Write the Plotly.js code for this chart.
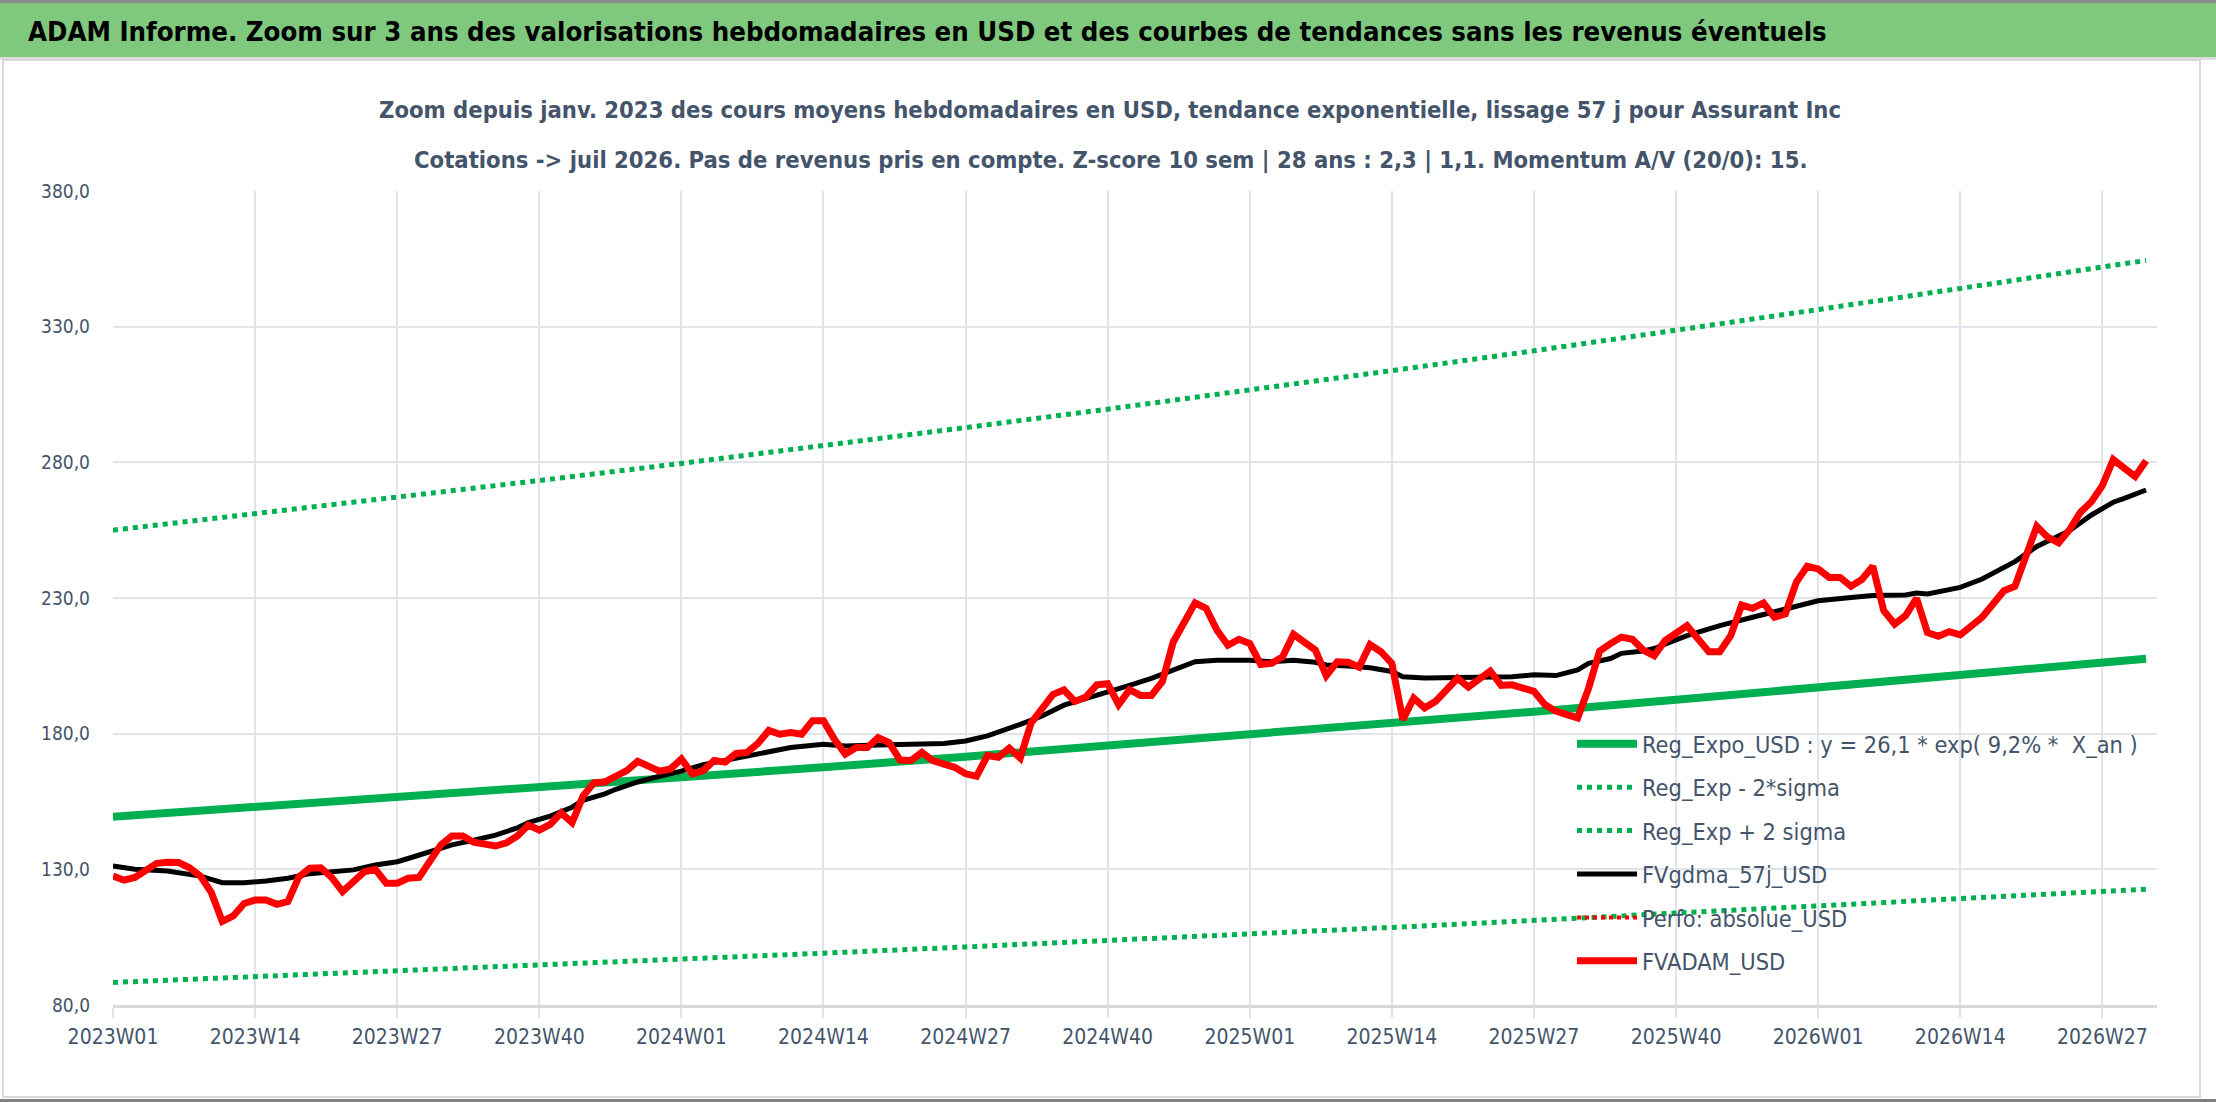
<!DOCTYPE html>
<html>
<head>
<meta charset="utf-8">
<script src="https://cdn.plot.ly/plotly-3.0.1.min.js"></script>
<style>
html, body { margin: 0; padding: 0; background: #fff; }
#chart { width: 2216px; height: 1102px; }
</style>
</head>
<body>
<div id="chart"></div>
<script>
// categories : semaines ISO de 2023W01 a 2026W31
const years = [2023, 2024, 2025, 2026]
const weeksPerYear = [52, 52, 52, 31]
const weeks = []
years.forEach((y, k) => {
    for (let w = 1; w <= weeksPerYear[k]; w++) weeks.push(y + 'W' + String(w).padStart(2, '0'))
})

const tickLabels = ['2023W01', '2023W14', '2023W27', '2023W40', '2024W01', '2024W14', '2024W27', '2024W40',
    '2025W01', '2025W14', '2025W27', '2025W40', '2026W01', '2026W14', '2026W27']

// courbes de tendance, lues tous les 13 semaines
const trendWeeks = tickLabels.concat(['2026W31'])
const regExpo = [149.4, 152.9, 156.4, 160.1, 163.8, 167.6, 171.5, 175.5, 179.6, 183.8, 188.1, 192.5, 197.0, 201.6, 206.3, 207.6]
const regLow = [88.3, 90.4, 92.5, 94.6, 96.8, 99.1, 101.4, 103.7, 106.1, 108.6, 111.2, 113.8, 116.4, 119.1, 121.9, 122.7]
const regHigh = [255.0, 261.0, 267.0, 273.3, 279.6, 286.1, 292.8, 299.6, 306.6, 313.8, 321.1, 328.6, 336.3, 344.1, 352.1, 354.4]

// lissage 57 j (index de semaine, valeur)
const smaIdx = [0, 2, 5, 8, 10, 12, 14, 16, 18, 20, 22, 24, 26, 27, 29, 31, 33, 35, 37, 38, 40, 42, 43, 45, 46,
    48, 50, 52, 54, 57, 60, 62, 65, 67, 70, 73, 76, 78, 80, 83, 85, 87, 89, 91, 93, 95, 97, 99, 101, 104,
    106, 108, 110, 111, 113, 115, 117, 118, 120, 123, 125, 128, 130, 132, 134, 135, 137, 138, 140, 141,
    144, 147, 150, 153, 156, 159, 161, 164, 165, 166, 169, 171, 174, 176, 179, 181, 183, 184, 186]
const smaValues = [131.2, 130, 129.4, 127.5, 125.1, 125.1, 125.7, 126.7, 128.4, 129.1, 129.8, 131.6, 132.8, 134, 136.5, 139, 140.7, 142.6, 145.3, 147.2, 149.6, 152.9, 155.4, 157.8, 159.5,
    162.2, 164.3, 166.2, 168.6, 171, 173.5, 174.9, 176.1, 175.5, 175.8, 176.1, 176.4, 177.3, 179.2, 183.4, 186.5, 190.5, 192.8, 195.5, 197.8, 200.4, 203.5, 206.5, 207.1, 207.1,
    206.5, 207.1, 206.3, 205.3, 204.9, 204.3, 202.9, 201, 200.5, 200.7, 201, 201, 201.7, 201.4, 203.5, 205.9, 207.7, 209.6, 210.5, 211.4,
    216.1, 219.8, 222.9, 225.9, 229, 230.2, 230.9, 231.1, 231.8, 231.5, 233.9, 237, 243.4, 249, 254.8, 260.6, 265.3, 266.7, 269.8]

// valorisation hebdomadaire
const fvadam = [
    127.5, 126, 127, 130, 132.2, 132.6, 132.5, 130.6, 127.5, 121.4,
    110.8, 112.8, 117.4, 118.7, 118.7, 117.1, 118.1, 127.2, 130.4, 130.6,
    127, 121.8, 125.1, 129.1, 130, 124.9, 124.9, 126.7, 127, 132.5,
    139, 142.3, 142.3, 140, 139, 138.6, 139.8, 142.3, 146.3, 144.5,
    146.6, 150.8, 147.2, 157, 161.9, 162.2, 164.3, 166.4, 169.8, 168,
    166.2, 167, 170.7, 165.2, 166.4, 170.1, 169.5, 172.7, 173.1, 176.4,
    181.2, 179.8, 180.4, 179.8, 184.8, 184.8, 177.9, 172.5, 174.9, 174.9,
    178.5, 176.7, 170.3, 170.1, 173.1, 170.1, 168.9, 167.6, 165.2, 164.3,
    171.9, 171.3, 174.7, 171, 184, 189.8, 194.5, 196.1, 191.9, 193.5,
    198, 198.4, 190.7, 196.2, 194.1, 194.1, 199.2, 213.8, 221.7, 228.2,
    226.2, 218.1, 212.6, 214.8, 213.2, 205.5, 205.9, 208.3, 216.6, 213.6,
    210.8, 201.4, 206.5, 206.3, 204.5, 212.8, 210.2, 205.9, 185.2, 193.1,
    189.5, 191.9, 196.2, 200.4, 197.2, 199.8, 203.1, 197.8, 198, 196.8,
    195.6, 190.7, 188.3, 187, 185.8, 196.8, 210.4, 213.2, 215.6, 214.8,
    210.8, 208.7, 214.3, 217, 219.8, 215, 210.2, 210.2, 216.1, 227.4,
    226.2, 228.2, 222.9, 224.1, 235.8, 241.7, 240.7, 237.6, 237.6, 234.3,
    236.8, 241.7, 225.3, 220.4, 223.5, 229.9, 217.3, 215.9, 217.6, 216.4,
    219.6, 222.9, 227.8, 232.7, 234.3, 245.6, 256.4, 252.4, 250.3, 255.2,
    261.6, 265.5, 271.4, 281, 278.2, 274.8, 280.6]

const FONT = '"Liberation Sans Narrow", "DejaVu Sans Condensed", "Roboto Condensed", sans-serif'
const GREEN = '#00B050'
const TXT = '#44546A'

// zone de trace en pixels : 113..2157 x 191..1005
const px = x => (x - 113) / 2044
const py = y => (1005 - y) / 814

const data = [
    { x: trendWeeks, y: regExpo, type: 'scatter', mode: 'lines', name: 'Reg_Expo_USD : y = 26,1 * exp( 9,2% *  X_an )',
      legendgroup: 'a', line: { color: GREEN, width: 8 } },
    { x: trendWeeks, y: regLow, type: 'scatter', mode: 'lines', name: 'Reg_Exp - 2*sigma',
      legendgroup: 'b', line: { color: GREEN, width: 5, dash: '5px,5px' } },
    { x: trendWeeks, y: regHigh, type: 'scatter', mode: 'lines', name: 'Reg_Exp + 2 sigma',
      legendgroup: 'c', line: { color: GREEN, width: 5, dash: '5px,5px' } },
    { x: smaIdx.map(i => weeks[i]), y: smaValues, type: 'scatter', mode: 'lines', name: 'FVgdma_57j_USD',
      legendgroup: 'd', line: { color: '#000000', width: 5 } },
    { x: [weeks[0]], y: [null], type: 'scatter', mode: 'lines', name: 'Perfo: absolue_USD',
      legendgroup: 'e', line: { color: '#FF0000', width: 4, dash: '4px,4px' } },
    { x: weeks, y: fvadam, type: 'scatter', mode: 'lines', name: 'FVADAM_USD',
      legendgroup: 'f', line: { color: '#FF0000', width: 7 } }
]

const layout = {
    width: 2216,
    height: 1102,
    margin: { l: 113, r: 59, t: 191, b: 97 },
    paper_bgcolor: '#ffffff',
    plot_bgcolor: '#ffffff',
    separators: ', ',
    font: { family: FONT, color: TXT, size: 22 },
    title: {
        text: '<b>ADAM Informe. Zoom sur 3 ans des valorisations hebdomadaires en USD et des courbes de tendances sans les revenus éventuels</b>',
        xref: 'container', yref: 'container', x: 28 / 2216, xanchor: 'left', y: 1 - 31 / 1102, yanchor: 'middle',
        font: { family: FONT, size: 27.3, color: '#000000' }
    },
    annotations: [
        { text: '<b>Zoom depuis janv. 2023 des cours moyens hebdomadaires en USD, tendance exponentielle, lissage 57 j pour Assurant Inc</b>',
          xref: 'paper', yref: 'paper', x: px(1110), y: py(110), xanchor: 'center', yanchor: 'middle', showarrow: false,
          font: { size: 23.6, color: TXT } },
        { text: '<b>Cotations -> juil 2026. Pas de revenus pris en compte. Z-score 10 sem | 28 ans : 2,3 | 1,1. Momentum A/V (20/0): 15.</b>',
          xref: 'paper', yref: 'paper', x: px(1110), y: py(160), xanchor: 'center', yanchor: 'middle', showarrow: false,
          font: { size: 23.6, color: TXT } }
    ],
    shapes: [
        { type: 'rect', xref: 'paper', yref: 'paper', x0: px(0), x1: px(2216), y0: py(0), y1: py(3), fillcolor: '#8c8c8c', line: { width: 0 }, layer: 'below' },
        { type: 'rect', xref: 'paper', yref: 'paper', x0: px(0), x1: px(2216), y0: py(3), y1: py(57), fillcolor: '#7fc97f', line: { width: 0 }, layer: 'below' },
        { type: 'rect', xref: 'paper', yref: 'paper', x0: px(0), x1: px(2216), y0: py(57), y1: py(60), fillcolor: '#dcdcdc', line: { width: 0 }, layer: 'below' },
        { type: 'rect', xref: 'paper', yref: 'paper', x0: px(3), x1: px(2200), y0: py(60), y1: py(1097), line: { color: '#d9d9d9', width: 2 }, layer: 'below' },
        { type: 'rect', xref: 'paper', yref: 'paper', x0: px(0), x1: px(2216), y0: py(1099), y1: py(1102), fillcolor: '#7f7f7f', line: { width: 0 }, layer: 'below' }
    ],
    xaxis: {
        type: 'category',
        categoryorder: 'array',
        categoryarray: weeks,
        range: [0, 187],
        tickmode: 'array',
        tickvals: tickLabels,
        ticktext: tickLabels,
        showgrid: true, gridcolor: '#E1E4EA', gridwidth: 2,
        showline: true, linecolor: '#D9D9D9', linewidth: 3,
        ticks: 'outside', ticklen: 10, tickcolor: '#E1E4EA', tickwidth: 2,
        ticklabelstandoff: 1,
        tickfont: { size: 21, color: TXT },
        zeroline: false
    },
    yaxis: {
        range: [80, 380],
        tick0: 80, dtick: 50,
        tickformat: '.1f',
        showgrid: true, gridcolor: '#E1E4EA', gridwidth: 2,
        zeroline: false, showline: false, ticks: '',
        ticklabelstandoff: 22,
        tickfont: { size: 19, color: TXT }
    },
    showlegend: true,
    legend: {
        x: px(1572), xanchor: 'left',
        y: py(722), yanchor: 'top',
        bgcolor: 'rgba(0,0,0,0)',
        font: { size: 23.4, color: TXT },
        traceorder: 'grouped',
        tracegroupgap: 10,
        itemwidth: 60
    }
}

Plotly.newPlot('chart', data, layout, { displayModeBar: false, staticPlot: true })
</script>
</body>
</html>
